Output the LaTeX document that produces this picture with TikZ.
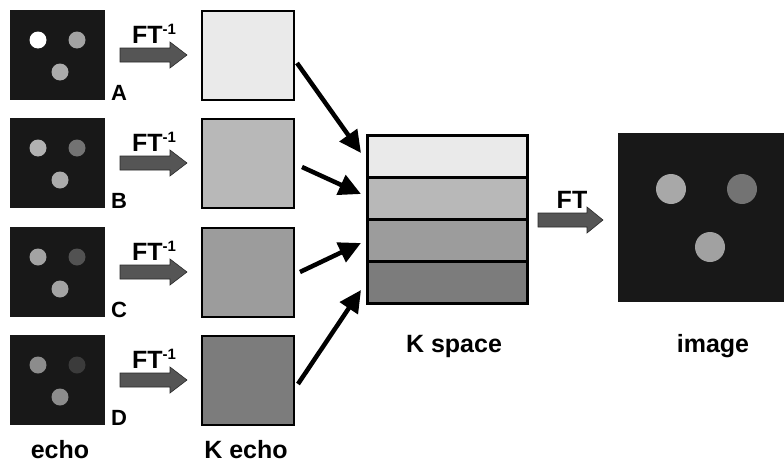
\documentclass[tikz,border=0pt]{standalone}
\usepackage{fontspec}
\setmainfont{Liberation Sans}
\usetikzlibrary{arrows.meta}
\definecolor{bgdark}{HTML}{181818}
\definecolor{kA}{HTML}{EAEAEA}
\definecolor{kB}{HTML}{B8B8B8}
\definecolor{kC}{HTML}{9C9C9C}
\definecolor{kD}{HTML}{7C7C7C}
\definecolor{arrowgray}{HTML}{555555}
\definecolor{arrowline}{HTML}{2A2A2A}
\tikzset{
  echobox/.style={fill=bgdark, draw=none, minimum width=95pt, minimum height=90pt, anchor=north west, inner sep=0pt},
  kbox/.style={draw=black, line width=2.2pt, minimum width=92pt, minimum height=89pt, anchor=north west, inner sep=0pt},
  dot/.style={circle, draw=none, minimum size=17pt, inner sep=0pt},
  bigdot/.style={circle, draw=none, minimum size=30pt, inner sep=0pt},
  strip/.style={draw=black, line width=2.6pt, minimum width=160pt, minimum height=42pt, anchor=north west, inner sep=0pt},
  lbl/.style={font=\fontsize{25}{30}\selectfont\bfseries, inner sep=0pt},
  letter/.style={font=\fontsize{22}{26}\selectfont\bfseries, inner sep=0pt, anchor=base west},
  ftarrow/.style={fill=arrowgray, draw=arrowline, line width=0.6pt},
  conn/.style={line width=4.5pt, -{Triangle[length=22pt,width=21pt]}}
}
\newcommand{\ftinv}{FT\raisebox{9pt}{\fontsize{15}{18}\selectfont -1}}
\begin{document}
\begin{tikzpicture}[x=1pt,y=-1pt]
\useasboundingbox (0,0) rectangle (784,463);
\fill[white] (0,0) rectangle (784,463);

% ---- rows ----
\foreach \r/\t/\ca/\cb/\cc/\kc in {A/10/white/black!36/black!33/kA, B/118/black!30/black!55/black!33/kB, C/227/black!36/black!68/black!36/kC, D/335/black!45/black!77/black!45/kD}{
  \node[echobox] (e\r) at (10,\t) {};
  \node[dot, fill=\ca] (e\r1) at (38,\t+30) {};
  \node[dot, fill=\cb] (e\r2) at (77,\t+30) {};
  \node[dot, fill=\cc] (e\r3) at (60,\t+62) {};
  \node[letter] (l\r) at (111,\t+90) {\r};
  \node[kbox, fill=\kc] (k\r) at (201,\t) {};
  \node[lbl, anchor=base] (ft\r) at (154,\t+33) {\ftinv};
  \draw[ftarrow] (120,\t+38) -- (170,\t+38) -- (170,\t+32) -- (187,\t+45) -- (170,\t+58) -- (170,\t+52) -- (120,\t+52) -- cycle;
}

% ---- K space ----
\node[strip, fill=kA] (s1) at (366,134) {};
\node[strip, fill=kB] (s2) at (366,176) {};
\node[strip, fill=kC] (s3) at (366,218) {};
\node[strip, fill=kD] (s4) at (366,260) {};

% ---- connectors ----
\coordinate (cA) at (297,63);
\coordinate (cB) at (302,167);
\coordinate (cC) at (300,272);
\coordinate (cD) at (298,384);
\coordinate (tA) at (361,153);
\coordinate (tB) at (361,194);
\coordinate (tC) at (361,243);
\coordinate (tD) at (361,290);
\draw[conn] (cA) -- (tA);
\draw[conn] (cB) -- (tB);
\draw[conn] (cC) -- (tC);
\draw[conn] (cD) -- (tD);

% ---- FT arrow ----
\node[lbl, anchor=base] (ft) at (572,208) {FT};
\draw[ftarrow] (538,213) -- (587,213) -- (587,207) -- (603,220) -- (587,233) -- (587,227) -- (538,227) -- cycle;

% ---- image ----
\node[fill=bgdark, draw=none, minimum width=166pt, minimum height=169pt, anchor=north west, inner sep=0pt] (img) at (618,133) {};
\node[bigdot, fill=black!34] (i1) at (671,189) {};
\node[bigdot, fill=black!55] (i2) at (742,189) {};
\node[bigdot, fill=black!37] (i3) at (710,247) {};

% ---- captions ----
\node[lbl, anchor=base] (capE) at (60,458) {echo};
\node[lbl, anchor=base] (capK) at (246,458) {K echo};
\node[lbl, anchor=base] (capS) at (454,352) {K space};
\node[lbl, anchor=base] (capI) at (713,352) {image};
\end{tikzpicture}
\end{document}
